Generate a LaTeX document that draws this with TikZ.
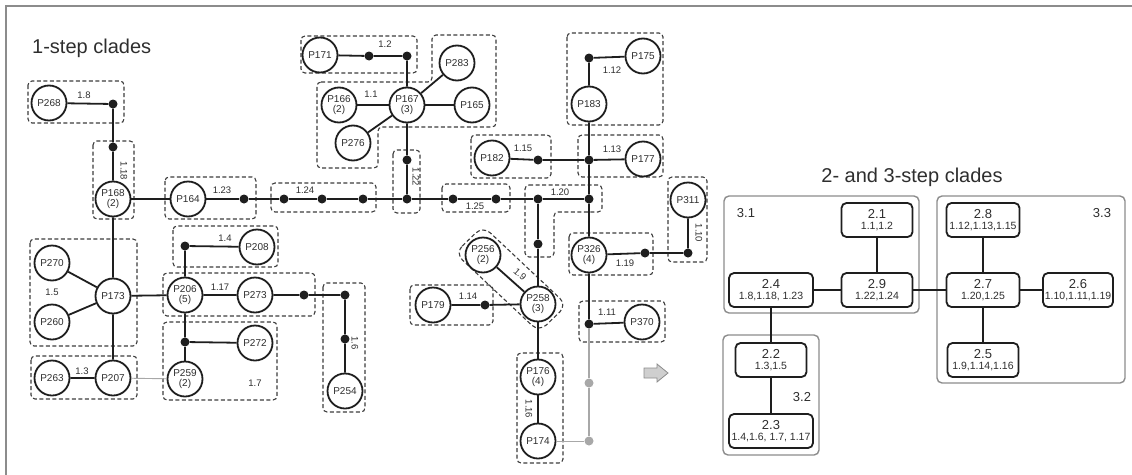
\documentclass[tikz,border=0pt]{standalone}
\usepackage{fontspec}
\setmainfont{Liberation Sans}
\usetikzlibrary{positioning, backgrounds}
\definecolor{inkdark}{HTML}{1E1E1E}
\definecolor{dashgrey}{HTML}{3C3C3C}
\definecolor{fadegrey}{HTML}{A8A8A8}
\definecolor{framegrey}{HTML}{8C8C8C}
\definecolor{textgrey}{HTML}{2E2E2E}
\newcommand{\cladetxt}[2]{{\fontsize{13}{13}\selectfont #1}\\[-1pt]{\fontsize{10.5}{11}\selectfont #2}}

\begin{document}
\begin{tikzpicture}[x=1pt, y=-1pt,
    hap/.style={circle, draw=inkdark, line width=1.8pt, fill=white, minimum size=35pt,
                inner sep=0pt, align=center, font=\fontsize{10}{10.5}\selectfont, text=textgrey},
    hapdot/.style={circle, fill=inkdark, minimum size=9pt, inner sep=0pt},
    greydot/.style={hapdot, fill=fadegrey},
    link/.style={line width=1.8pt, draw=inkdark},
    greylink/.style={line width=1.8pt, draw=fadegrey},
    thinlink/.style={line width=0.9pt, draw=fadegrey},
    num/.style={font=\fontsize{9.5}{10}\selectfont, text=textgrey, inner sep=1pt},
    onestep/.style={draw=dashgrey, line width=1.1pt, dash pattern=on 4pt off 2.5pt, rounded corners=4pt},
    twostep/.style={rectangle, draw=inkdark, line width=1.8pt, fill=white, rounded corners=5pt,
                    align=center, minimum height=34pt, inner sep=1pt, text=textgrey},
    threestep/.style={draw=framegrey, line width=1.4pt, rounded corners=5pt},
    cladenum/.style={font=\fontsize{13}{13}\selectfont, text=textgrey, inner sep=0pt},
    heading/.style={font=\fontsize{20}{24}\selectfont, text=textgrey, inner sep=0pt},
    blockarrow/.style={draw=framegrey, fill=fadegrey!55, line width=0.8pt}
  ]
    \useasboundingbox (0,0) rectangle (1132,474);
    \draw[framegrey, line width=1.5pt] (1140,6) -- (6,6) -- (6,480);

    \node[heading, anchor=west] (title1) at (32,48) {1-step clades};
    \node[heading] (title2) at (912,177) {2- and 3-step clades};

    \node[hap] (P268) at (49,103) {P268};
    \node[hap] (P168) at (113,199) {P168\\(2)};
    \node[hap] (P164) at (188,199) {P164};
    \node[hap] (P173) at (113,296) {P173};
    \node[hap] (P270) at (52,263) {P270};
    \node[hap] (P260) at (52,322) {P260};
    \node[hap] (P207) at (113,378) {P207};
    \node[hap] (P263) at (52,378) {P263};
    \node[hap] (P206) at (185,295) {P206\\(5)};
    \node[hap] (P208) at (257,247) {P208};
    \node[hap] (P273) at (255,295) {P273};
    \node[hap] (P272) at (255,343) {P272};
    \node[hap] (P259) at (185,379) {P259\\(2)};
    \node[hap] (P254) at (345,391) {P254};
    \node[hap] (P171) at (320,55) {P171};
    \node[hap] (P167) at (407,105) {P167\\(3)};
    \node[hap] (P166) at (339,105) {P166\\(2)};
    \node[hap] (P283) at (457,63) {P283};
    \node[hap] (P165) at (472,105) {P165};
    \node[hap] (P276) at (353,143) {P276};
    \node[hap] (P182) at (492,158) {P182};
    \node[hap] (P175) at (643,56) {P175};
    \node[hap] (P183) at (589,104) {P183};
    \node[hap] (P177) at (643,159) {P177};
    \node[hap] (P311) at (688,200) {P311};
    \node[hap] (P326) at (589,255) {P326\\(4)};
    \node[hap] (P370) at (642,322) {P370};
    \node[hap] (P256) at (483,255) {P256\\(2)};
    \node[hap] (P258) at (538,304) {P258\\(3)};
    \node[hap] (P179) at (433,305) {P179};
    \node[hap] (P176) at (538,377) {P176\\(4)};
    \node[hap] (P174) at (538,441) {P174};

    \node[hapdot] (d18a) at (113,104) {};
    \node[hapdot] (d18b) at (113,147) {};
    \node[hapdot] (d23) at (244,199) {};
    \node[hapdot] (d24a) at (284,199) {};
    \node[hapdot] (d24b) at (322,199) {};
    \node[hapdot] (d24c) at (363,199) {};
    \node[hapdot] (d22b) at (407,199) {};
    \node[hapdot] (d25a) at (453,199) {};
    \node[hapdot] (d25b) at (496,199) {};
    \node[hapdot] (d20a) at (538,199) {};
    \node[hapdot] (d20b) at (589,199) {};
    \node[hapdot] (d2a) at (369,56) {};
    \node[hapdot] (d2b) at (407,56) {};
    \node[hapdot] (d22a) at (407,160) {};
    \node[hapdot] (d15) at (538,160) {};
    \node[hapdot] (d13) at (589,160) {};
    \node[hapdot] (d12) at (589,58) {};
    \node[hapdot] (d20c) at (538,244) {};
    \node[hapdot] (d14) at (485,305) {};
    \node[hapdot] (d19a) at (645,253) {};
    \node[hapdot] (d19b) at (688,253) {};
    \node[hapdot] (d11) at (589,324) {};
    \node[hapdot] (d4) at (185,246) {};
    \node[hapdot] (d7) at (185,342) {};
    \node[hapdot] (d6a) at (304,295) {};
    \node[hapdot] (d6b) at (345,295) {};
    \node[hapdot] (d6c) at (345,339) {};
    \node[greydot] (g1) at (589,383) {};
    \node[greydot] (g2) at (589,441) {};

    \draw[link] (P268) -- (d18a) -- (d18b) -- (P168) -- (P173) -- (P207) -- (P263);
    \draw[link] (P173) -- (P270);
    \draw[link] (P173) -- (P260);
    \draw[link] (P168) -- (P164) -- (d23) -- (d24a) -- (d24b) -- (d24c) -- (d22b)
                -- (d25a) -- (d25b) -- (d20a) -- (d20b);
    \draw[link] (P173) -- (P206) -- (P273) -- (d6a) -- (d6b) -- (d6c) -- (P254);
    \draw[link] (P206) -- (d4) -- (P208);
    \draw[link] (P206) -- (d7) -- (P272);
    \draw[link] (d7) -- (P259);
    \draw[thinlink] (P207) -- (P259);
    \draw[link] (P171) -- (d2a) -- (d2b) -- (P167) -- (d22a) -- (d22b);
    \draw[link] (P166) -- (P167);
    \draw[link] (P167) -- (P283);
    \draw[link] (P167) -- (P165);
    \draw[link] (P167) -- (P276);
    \draw[link] (P182) -- (d15) -- (d13) -- (P177);
    \draw[link] (P175) -- (d12) -- (P183) -- (d13) -- (d20b) -- (P326) -- (d11) -- (P370);
    \draw[link] (P326) -- (d19a) -- (d19b) -- (P311);
    \draw[link] (d20a) -- (d20c) -- (P258) -- (P176) -- (P174);
    \draw[link] (P256) -- (P258);
    \draw[link] (P179) -- (d14) -- (P258);
    \draw[greylink] (d11) -- (g1) -- (g2);
    \draw[thinlink] (P174) -- (g2);

    \node[num] (n18) at (84,95) {1.8};
    \node[num, rotate=-90] (n118) at (124,171) {1.18};
    \node[num] (n123) at (222,190) {1.23};
    \node[num] (n124) at (305,190) {1.24};
    \node[num] (n12) at (385,44) {1.2};
    \node[num] (n11) at (371,94) {1.1};
    \node[num, rotate=-90] (n122) at (416,177) {1.22};
    \node[num] (n125) at (475,206) {1.25};
    \node[num] (n115) at (523,148) {1.15};
    \node[num] (n120) at (560,192) {1.20};
    \node[num] (n112) at (612,70) {1.12};
    \node[num] (n113) at (612,149) {1.13};
    \node[num, rotate=-90] (n110) at (699,233) {1.10};
    \node[num] (n119) at (625,263) {1.19};
    \node[num] (n111) at (607,312) {1.11};
    \node[num, rotate=-42, inner sep=0pt] (n19) at (520,274) {1.9};
    \node[num] (n114) at (468,296) {1.14};
    \node[num, rotate=-90] (n116) at (529,409) {1.16};
    \node[num] (n15) at (52,292) {1.5};
    \node[num] (n13) at (82,371) {1.3};
    \node[num] (n14) at (225,238) {1.4};
    \node[num] (n117) at (220,287) {1.17};
    \node[num] (n17) at (255,383) {1.7};
    \node[num, rotate=-90] (n16) at (355,343) {1.6};

    \draw[blockarrow] (644,368) -- (657,368) -- (657,364) -- (668,373) -- (657,382)
                      -- (657,378) -- (644,378) -- cycle;

    \node[twostep, minimum width=71pt] (c21) at (877,220) {\cladetxt{2.1}{1.1,1.2}};
    \node[twostep, minimum width=71pt] (c29) at (877,290) {\cladetxt{2.9}{1.22,1.24}};
    \node[twostep, minimum width=84pt] (c24) at (771,290) {\cladetxt{2.4}{1.8,1.18, 1.23}};
    \node[twostep, minimum width=73pt] (c28) at (983,220) {\cladetxt{2.8}{1.12,1.13,1.15}};
    \node[twostep, minimum width=73pt] (c27) at (983,290) {\cladetxt{2.7}{1.20,1.25}};
    \node[twostep, minimum width=70pt] (c26) at (1078,290) {\cladetxt{2.6}{1.10,1.11,1.19}};
    \node[twostep, minimum width=71pt] (c25) at (983,360) {\cladetxt{2.5}{1.9,1.14,1.16}};
    \node[twostep, minimum width=71pt] (c22) at (771,360) {\cladetxt{2.2}{1.3,1.5}};
    \node[twostep, minimum width=84pt] (c23) at (771,431) {\cladetxt{2.3}{1.4,1.6, 1.7, 1.17}};

    \node[cladenum] (c31) at (746,213) {3.1};
    \node[cladenum] (c33) at (1102,213) {3.3};
    \node[cladenum] (c32) at (802,397) {3.2};

    \draw[link] (c21) -- (c29);
    \draw[link] (c24) -- (c29) -- (c27) -- (c26);
    \draw[link] (c28) -- (c27) -- (c25);
    \draw[link] (c24) -- (c22) -- (c23);

    \begin{pgfonlayer}{background}
      \draw[onestep] (28,81) rectangle (124,123);
      \draw[onestep] (93,141) rectangle (134,219);
      \draw[onestep] (165,177) rectangle (256,219);
      \draw[onestep] (271,183) rectangle (376,212);
      \draw[onestep] (301,36) rectangle (417,73);
      \draw[onestep] (317,82) -- (432,82) -- (432,35) -- (496,35) -- (496,127)
                     -- (378,127) -- (378,168) -- (317,168) -- cycle;
      \draw[onestep] (393,150) rectangle (420,213);
      \draw[onestep] (442,184) rectangle (510,212);
      \draw[onestep] (471,135) rectangle (551,178);
      \draw[onestep] (567,33) rectangle (663,125);
      \draw[onestep] (578,135) rectangle (663,177);
      \draw[onestep] (525,185) -- (602,185) -- (602,212) -- (554,212) -- (554,257)
                     -- (525,257) -- cycle;
      \draw[onestep] (668,177) rectangle (707,262);
      \draw[onestep] (569,233) rectangle (653,275);
      \draw[onestep] (579,301) rectangle (665,342);
      \draw[onestep] (410,285) rectangle (493,325);
      \draw[onestep, rounded corners=10pt] (455,253) -- (483,226) -- (567,305) -- (539,332) -- cycle;
      \draw[onestep] (517,353) rectangle (563,463);
      \draw[onestep] (30,239) rectangle (137,346);
      \draw[onestep] (31,356) rectangle (137,399);
      \draw[onestep] (173,226) rectangle (278,267);
      \draw[onestep] (163,273) rectangle (315,316);
      \draw[onestep] (163,322) rectangle (277,400);
      \draw[onestep] (323,283) rectangle (365,412);
      \draw[threestep] (724,196) rectangle (919,313);
      \draw[threestep] (937,196) rectangle (1125,383);
      \draw[threestep] (723,335) rectangle (819,455);
    \end{pgfonlayer}
\end{tikzpicture}
\end{document}
